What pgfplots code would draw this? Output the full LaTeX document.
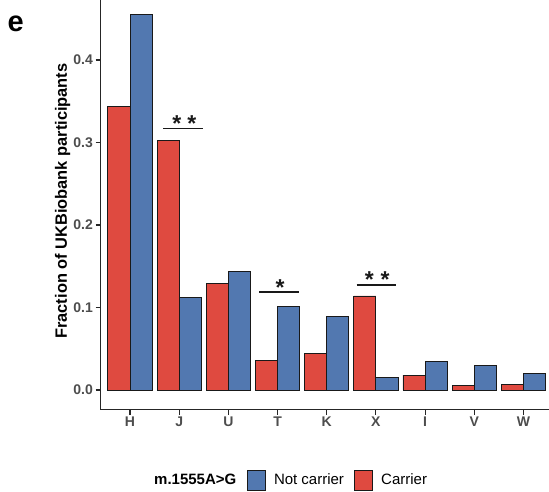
\documentclass[border=0pt]{standalone}
\usepackage{fontspec}
\setmainfont{Liberation Sans}
\usepackage{pgfplots}
\pgfplotsset{compat=1.18}
\definecolor{cred}{RGB}{223,74,64}
\definecolor{cblue}{RGB}{82,120,176}
\definecolor{tickgray}{RGB}{77,77,77}
\begin{document}
\begin{tikzpicture}[x=1pt,y=1pt]
\path[use as bounding box] (0,0) rectangle (549,491);
\begin{axis}[
  at={(100.5pt,81.5pt)}, anchor=south west,
  scale only axis, width=448.5pt, height=409.5pt,
  xmin=-0.6, xmax=8.52, ymin=-0.0236, ymax=0.4728,
  axis x line*=bottom, axis y line*=left,
  axis line style={line width=1.1pt, black!85, -},
  xtick={0,1,2,3,4,5,6,7,8},
  xticklabels={H,J,U,T,K,X,I,V,W},
  ytick={0,0.1,0.2,0.3,0.4},
  yticklabel style={/pgf/number format/fixed, /pgf/number format/precision=1, /pgf/number format/fixed zerofill},
  /pgf/number format/assume math mode=true,
  tick align=outside, major tick length=5pt,
  tick style={line width=1.1pt, black!85},
  ticklabel style={font=\fontsize{14}{16}\selectfont\bfseries, text=tickgray, inner sep=2.5pt},
  ylabel={Fraction of UKBiobank participants},
  ylabel style={at={(axis description cs:-0.0751,0.509)}, anchor=base, font=\fontsize{16.4}{18}\selectfont\bfseries, inner sep=0pt},
  ybar=0pt, bar width=0.45,
]
\addplot[fill=cred, draw=black!90, line width=0.8pt] coordinates {
(0,0.3434) (1,0.3030) (2,0.1293) (3,0.0364) (4,0.0445) (5,0.1140) (6,0.0182) (7,0.0060) (8,0.0073)};
\addplot[fill=cblue, draw=black!90, line width=0.8pt] coordinates {
(0,0.4554) (1,0.1119) (2,0.1442) (3,0.1018) (4,0.0888) (5,0.0149) (6,0.0348) (7,0.0300) (8,0.0202)};
% significance annotations
\draw[line width=1.6pt, black!90] (axis cs:0.680,0.3172) -- (axis cs:1.493,0.3172);
\draw[line width=1.6pt, black!90] (axis cs:2.629,0.1188) -- (axis cs:3.443,0.1188);
\draw[line width=1.6pt, black!90] (axis cs:4.610,0.1276) -- (axis cs:5.410,0.1276);
\node[anchor=north, inner sep=0pt, font=\fontsize{23}{23}\selectfont\bfseries, text=black!90] at (axis cs:0.950,0.3333) {*};
\node[anchor=north, inner sep=0pt, font=\fontsize{23}{23}\selectfont\bfseries, text=black!90] at (axis cs:1.255,0.3333) {*};
\node[anchor=north, inner sep=0pt, font=\fontsize{23}{23}\selectfont\bfseries, text=black!90] at (axis cs:3.050,0.1340) {*};
\node[anchor=north, inner sep=0pt, font=\fontsize{23}{23}\selectfont\bfseries, text=black!90] at (axis cs:4.866,0.1434) {*};
\node[anchor=north, inner sep=0pt, font=\fontsize{23}{23}\selectfont\bfseries, text=black!90] at (axis cs:5.185,0.1434) {*};
\end{axis}
% panel letter
\node[anchor=base west, inner sep=0pt, font=\fontsize{29}{29}\selectfont\bfseries] at (7.5,459.5) {e};
% legend
\node[anchor=base west, inner sep=0pt, font=\fontsize{15}{17}\selectfont\bfseries] at (154,6.3) {m.1555A>G};
\draw[fill=cblue, draw=black!90, line width=0.8pt] (247,0.4) rectangle (265.4,20.7);
\node[anchor=base west, inner sep=0pt, font=\fontsize{15}{17}\selectfont] at (273.8,6.3) {Not carrier};
\draw[fill=cred, draw=black!90, line width=0.8pt] (354.3,0.4) rectangle (372.2,20.7);
\node[anchor=base west, inner sep=0pt, font=\fontsize{15}{17}\selectfont] at (381,6.3) {Carrier};
\end{tikzpicture}
\end{document}
